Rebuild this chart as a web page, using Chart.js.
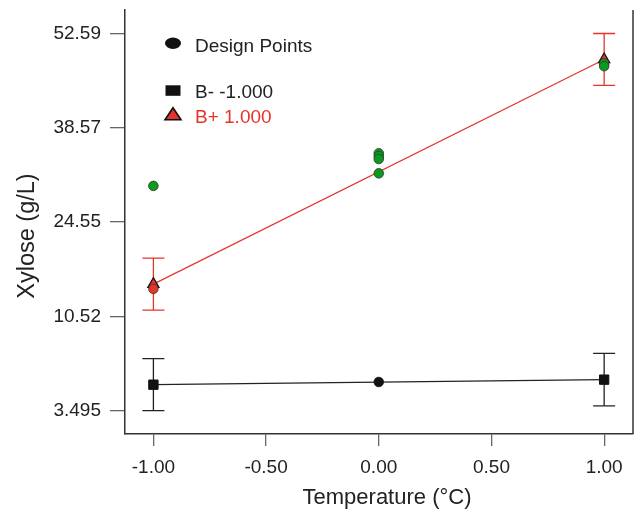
<!DOCTYPE html>
<html>
<head>
<meta charset="utf-8">
<script src="https://cdn.jsdelivr.net/npm/chart.js@4.4.0/dist/chart.umd.min.js"></script>
<style>
    html, body { margin: 0; padding: 0; background: #fff; }
</style>
</head>
<body>
<canvas id="xyloseChart" width="636" height="511"></canvas>
<script>
// coded temperature levels where the two B lines are evaluated
var levels = [-1, 1];
var bMinusMean = [0.35, 1.10];
var bMinusErr = [3.87, 3.90];
var bPlusMean = [15.3, 48.7];
var bPlusErr = [3.86, 3.86];

// design points, grouped by their colour
var dpRedX = [-1];
var dpRedY = [14.6];
var dpGreenX = [-1, 0, 0, 0, 0, 1, 1];
var dpGreenY = [29.9, 34.75, 34.35, 33.9, 31.77, 48.1, 47.7];
var dpBlackX = [0];
var dpBlackY = [0.75];

var xTickValues = [-1, -0.5, 0, 0.5, 1];
var xTickLabels = ['-1.00', '-0.50', '0.00', '0.50', '1.00'];
var yTickValues = [-3.495, 10.52, 24.55, 38.57, 52.59];
var yTickLabels = ['3.495', '10.52', '24.55', '38.57', '52.59'];

var legendLabels = ['Design Points', 'B- -1.000', 'B+ 1.000'];
var xTitle = 'Temperature (°C)';
var yTitle = 'Xylose (g/L)';

var RED = '#e5342b';
var GREEN = '#0a9a1c';
var FONT = "'Liberation Sans', Arial, Helvetica, sans-serif";

function toPoints(xs, ys) {
    return xs.map(function (x, i) { return {x: x, y: ys[i]}; });
}

// vertical error bars with caps, drawn under the markers
var errorBarPlugin = {
    id: 'errorBars',
    beforeDatasetsDraw: function (chart) {
        var ctx = chart.ctx;
        var xs = chart.scales.x, ys = chart.scales.y;
        chart.data.datasets.forEach(function (ds) {
            if (!ds.errors) return;
            ctx.save();
            ctx.strokeStyle = ds.errorColor;
            ctx.lineWidth = 1.3;
            ds.data.forEach(function (p, j) {
                var px = xs.getPixelForValue(p.x);
                var top = ys.getPixelForValue(p.y + ds.errors[j]);
                var bot = ys.getPixelForValue(p.y - ds.errors[j]);
                ctx.beginPath();
                ctx.moveTo(px, top); ctx.lineTo(px, bot);
                ctx.moveTo(px - 11, top); ctx.lineTo(px + 11, top);
                ctx.moveTo(px - 11, bot); ctx.lineTo(px + 11, bot);
                ctx.stroke();
            });
            ctx.restore();
        });
    }
};

// right frame line, axis titles and the legend inside the plot
var framePlugin = {
    id: 'frameAndLegend',
    afterDraw: function (chart) {
        var ctx = chart.ctx;
        var a = chart.chartArea;
        ctx.save();
        ctx.strokeStyle = '#333';
        ctx.lineWidth = 1.5;
        ctx.beginPath();
        ctx.moveTo(a.right, a.top);
        ctx.lineTo(a.right, a.bottom);
        ctx.stroke();

        // axis titles (the original sits a bit off the plot centre)
        ctx.fillStyle = '#222';
        ctx.textBaseline = 'alphabetic';
        ctx.textAlign = 'center';
        ctx.font = '22px ' + FONT;
        ctx.fillText(xTitle, (a.left + a.right) / 2 + 8, chart.height - 7);
        ctx.save();
        ctx.translate(34, (a.top + a.bottom) / 2 + 14);
        ctx.rotate(-Math.PI / 2);
        ctx.font = '23.5px ' + FONT;
        ctx.fillText(yTitle, 0, 0);
        ctx.restore();

        var mx = a.left + 48, tx = a.left + 70;
        var rows = [a.top + 42.3, a.top + 88.3, a.top + 112.7];
        ctx.font = '19px ' + FONT;
        ctx.textAlign = 'left';

        // design points: filled black ellipse
        ctx.fillStyle = '#111';
        ctx.beginPath();
        ctx.ellipse(mx, rows[0] - 9, 8, 5.7, 0, 0, Math.PI * 2);
        ctx.fill();
        ctx.fillStyle = '#222';
        ctx.fillText(legendLabels[0], tx, rows[0]);

        // B- : black square
        ctx.fillStyle = '#111';
        ctx.fillRect(mx - 7.5, rows[1] - 13, 15, 10.5);
        ctx.fillStyle = '#222';
        ctx.fillText(legendLabels[1], tx, rows[1]);

        // B+ : red triangle with black edge
        ctx.beginPath();
        ctx.moveTo(mx, rows[2] - 15);
        ctx.lineTo(mx + 8, rows[2] - 3);
        ctx.lineTo(mx - 8, rows[2] - 3);
        ctx.closePath();
        ctx.fillStyle = RED;
        ctx.fill();
        ctx.lineWidth = 1.6;
        ctx.strokeStyle = '#111';
        ctx.stroke();
        ctx.fillStyle = RED;
        ctx.fillText(legendLabels[2], tx, rows[2]);
        ctx.restore();
    }
};

var ctx = document.getElementById('xyloseChart').getContext('2d');
var myChart = new Chart(ctx, {
    type: 'scatter',
    plugins: [errorBarPlugin, framePlugin],
    data: {
        datasets: [{
            label: 'Design B+',
            data: toPoints(dpRedX, dpRedY),
            backgroundColor: RED,
            borderColor: '#333',
            borderWidth: 0.8,
            pointRadius: 4.8
        }, {
            label: 'Design center',
            data: toPoints(dpGreenX, dpGreenY),
            backgroundColor: GREEN,
            borderColor: '#333',
            borderWidth: 0.8,
            pointRadius: 4.8
        }, {
            label: 'Design B-',
            data: toPoints(dpBlackX, dpBlackY),
            backgroundColor: '#111',
            borderColor: '#111',
            borderWidth: 0.8,
            pointRadius: 4.8
        }, {
            label: 'B+ 1.000',
            data: toPoints(levels, bPlusMean),
            showLine: true,
            borderColor: RED,
            borderWidth: 1.2,
            pointStyle: 'triangle',
            pointRadius: 6.5,
            pointBackgroundColor: RED,
            pointBorderColor: '#111',
            pointBorderWidth: 1.2,
            errors: bPlusErr,
            errorColor: RED
        }, {
            label: 'B- -1.000',
            data: toPoints(levels, bMinusMean),
            showLine: true,
            borderColor: '#222',
            borderWidth: 1.2,
            pointStyle: 'rect',
            pointRadius: 6.6,
            pointBackgroundColor: '#111',
            pointBorderColor: '#111',
            pointBorderWidth: 1,
            errors: bMinusErr,
            errorColor: '#222'
        }]
    },
    options: {
        responsive: false,
        animation: false,
        layout: {
            autoPadding: false,
            padding: {top: 10, right: 3, left: 0, bottom: 0}
        },
        plugins: {
            legend: {display: false},
            tooltip: {enabled: false}
        },
        scales: {
            x: {
                type: 'linear',
                min: -1.126,
                max: 1.128,
                afterBuildTicks: function (scale) {
                    scale.ticks = xTickValues.map(function (v) { return {value: v}; });
                },
                afterFit: function (scale) {
                    scale.height = 77;
                    scale.paddingLeft = 0;
                    scale.paddingRight = 0;
                },
                ticks: {
                    autoSkip: false,
                    maxRotation: 0,
                    padding: 10,
                    color: '#222',
                    font: {family: FONT, size: 19},
                    callback: function (value, index) { return xTickLabels[index]; }
                },
                grid: {
                    drawOnChartArea: false,
                    drawTicks: true,
                    tickLength: 12,
                    color: '#666',
                    lineWidth: 1.3
                },
                border: {color: '#333', width: 1.5}
            },
            y: {
                type: 'linear',
                min: -6.98,
                max: 56.05,
                afterBuildTicks: function (scale) {
                    scale.ticks = yTickValues.map(function (v) { return {value: v}; });
                },
                afterFit: function (scale) {
                    scale.width = 125;
                    scale.paddingTop = 0;
                    scale.paddingBottom = 0;
                },
                ticks: {
                    autoSkip: false,
                    padding: 9,
                    color: '#222',
                    font: {family: FONT, size: 19},
                    callback: function (value, index) { return yTickLabels[index]; }
                },
                grid: {
                    drawOnChartArea: false,
                    drawTicks: true,
                    tickLength: 15,
                    color: '#666',
                    lineWidth: 1.3
                },
                border: {color: '#333', width: 1.5}
            }
        }
    }
});
</script>
</body>
</html>
